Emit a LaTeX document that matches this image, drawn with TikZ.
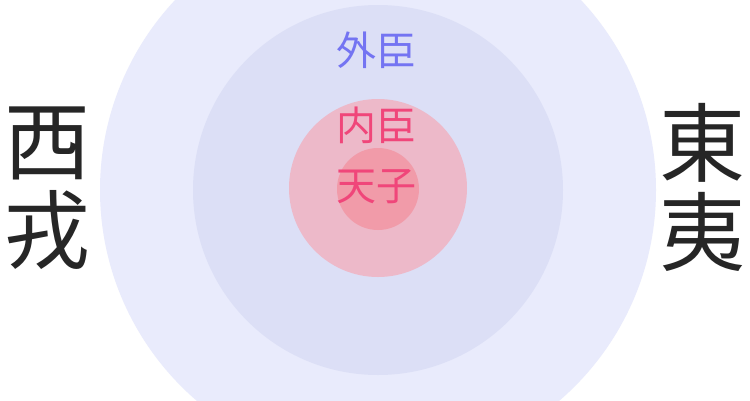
\documentclass[tikz,border=0pt]{standalone}
\usepackage{fontspec}
\newfontfamily\cjk{Noto Sans CJK JP}
\definecolor{ringA}{HTML}{E9EBFC}
\definecolor{ringB}{HTML}{DCDFF6}
\definecolor{ringC}{HTML}{EDB9C9}
\definecolor{ringD}{HTML}{F19BA9}
\definecolor{outerTxt}{HTML}{7474F2}
\definecolor{innerTxt}{HTML}{F0467A}
\tikzset{
  lbl/.style={inner sep=0pt, font=\cjk\fontsize{40}{40}\selectfont},
  big/.style={inner sep=0pt, font=\cjk\fontsize{86}{86}\selectfont, text=black!85},
}
\begin{document}
\begin{tikzpicture}[x=1pt,y=-1pt]
\useasboundingbox (0,0) rectangle (750,400);
\fill[white] (0,0) rectangle (750,400);
\begin{scope}
\clip (0,0) rectangle (750,400);
\fill[ringA] (378,190) circle (278);
\fill[ringB] (378,190) circle (185);
\fill[ringC] (378,188) circle (89);
\fill[ringD] (378,189) circle (41);
\end{scope}
\node[lbl, text=outerTxt] (waichen) at (376,50) {外臣};
\node[lbl, text=innerTxt] (neichen) at (376,125) {内臣};
\node[lbl, text=innerTxt] (tianzi) at (376,187) {天子};
\node[big] (xi) at (48,143) {西};
\node[big] (rong) at (48,230) {戎};
\node[big] (dong) at (702,143) {東};
\node[big] (yi) at (702,232) {夷};
\end{tikzpicture}
\end{document}
